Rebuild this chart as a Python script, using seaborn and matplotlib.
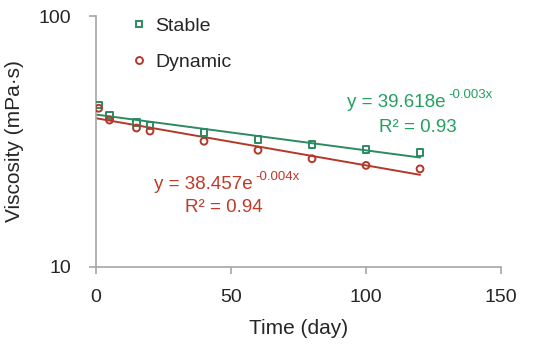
import numpy as np
import matplotlib
matplotlib.use('Agg')
import matplotlib.pyplot as plt
import seaborn as sns

zaman = [1, 5, 15, 20, 40, 60, 80, 100, 120]
stable = [44.2, 40.1, 37.7, 36.5, 34.3, 32.1, 30.7, 29.3, 28.5]
dynamic = [42.9, 38.5, 35.8, 34.8, 31.7, 29.2, 27.0, 25.4, 24.6]

esitlik_stable = ["y = 39.618e", "-0.003x", "R² = 0.93"]
esitlik_dynamic = ["y = 38.457e", "-0.004x", "R² = 0.94"]

yesil = '#2b8a62'
kirmizi = '#b3382a'
yesil_yazi = '#24a060'
kirmizi_yazi = '#c0392b'

sns.set_style('white')
plt.rcParams['font.family'] = ['Liberation Sans', 'DejaVu Sans']

fig = plt.figure(figsize=(5.5, 3.49), dpi=100)
ax = fig.add_axes([0.1745, 0.235, 0.7365, 0.719])

# trend lines (exponential fit)
x_fit = np.linspace(0, 120, 100)
for deger, renk in [(stable, yesil), (dynamic, kirmizi)]:
    b, ln_a = np.polyfit(zaman, np.log(deger), 1)
    sns.lineplot(x=x_fit, y=np.exp(ln_a) * np.exp(b * x_fit), color=renk, lw=1.4, ax=ax)

for deger, renk, mk in [(stable, yesil, 's'), (dynamic, kirmizi, 'o')]:
    sns.scatterplot(x=zaman, y=deger, marker=mk, s=24, linewidth=1.4, ax=ax, zorder=3)
    coll = ax.collections[-1]
    coll.set_facecolor('none')
    coll.set_edgecolor(renk)

ax.set_yscale('log')
ax.set_ylim(10, 100)
ax.set_xlim(0, 150)
ax.set_xticks([0, 50, 100, 150])
ax.set_yticks([10, 100])
ax.set_yticklabels(['10', '100'])
ax.minorticks_off()
ax.tick_params(axis='both', labelsize=14, length=5, width=1.2, color='#a6a6a6', direction='out',
               bottom=True, left=True)
ax.tick_params(axis='x', pad=11)
ax.tick_params(axis='y', pad=13)
for k in ['top', 'right']:
    ax.spines[k].set_visible(False)
for k in ['left', 'bottom']:
    ax.spines[k].set_color('#a6a6a6')
    ax.spines[k].set_linewidth(1.2)

ax.set_xlabel('Time (day)', fontsize=15, labelpad=9)
ax.set_ylabel('Viscosity (mPa·s)', fontsize=15, labelpad=10)

# legend
ax.plot([], [], 's', mfc='none', mec=yesil, mew=1.4, ms=5, label='Stable')
ax.plot([], [], 'o', mfc='none', mec=kirmizi, mew=1.4, ms=5, label='Dynamic')
ax.legend(loc='upper left', bbox_to_anchor=(0.05, 1.065), frameon=False, fontsize=14,
          handlelength=0.5, handletextpad=0.6, labelspacing=0.95)

# trend equations
for satir, renk, xy_eq, xy_r2 in [(esitlik_stable, yesil_yazi, (129.6, 45.4), (119, 36.1)),
                                  (esitlik_dynamic, kirmizi_yazi, (58, 21.4), (47.4, 17.2))]:
    t = ax.text(xy_eq[0], xy_eq[1], satir[0], color=renk, fontsize=13.5, ha='right', va='center')
    ax.annotate(satir[1], xy=(1, 0.5), xycoords=t, xytext=(2, 5), textcoords='offset points',
                color=renk, fontsize=9.5, ha='left', va='center')
    ax.text(xy_r2[0], xy_r2[1], satir[2], color=renk, fontsize=13.5, ha='center', va='center')

fig.savefig('out.png', dpi=100)
